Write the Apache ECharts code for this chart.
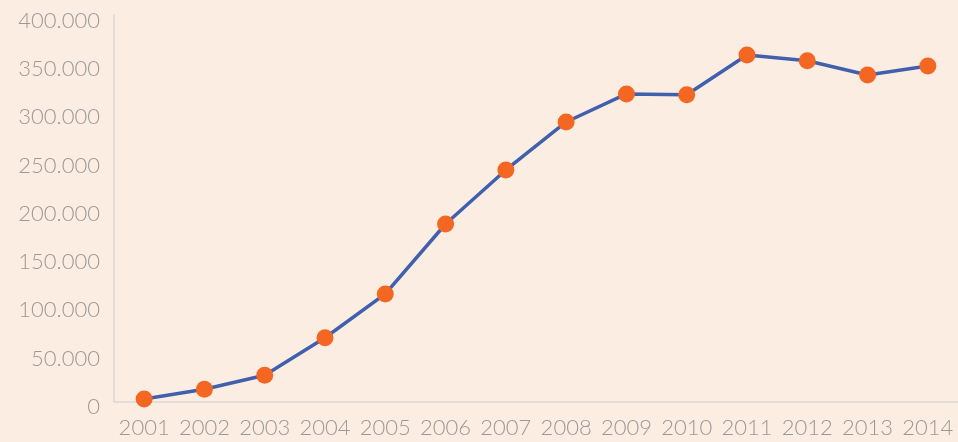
<!DOCTYPE html>
<html>
<head>
<meta charset="utf-8">
<script src="https://cdn.jsdelivr.net/npm/echarts@6/dist/echarts.min.js"></script>
<style>
	html, body { margin: 0; padding: 0; background: #FCEDE2; }
	#main { width: 958px; height: 442px; }
</style>
</head>
<body>
<div id="main"></div>
<script>
// 年份 / 数值
var years = [ '2001', '2002', '2003', '2004', '2005', '2006', '2007',
		'2008', '2009', '2010', '2011', '2012', '2013', '2014' ];
var values = [ 2500, 12600, 27100, 66000, 111300, 183700, 239600,
		289300, 318300, 317500, 358600, 352700, 337900, 347200 ];

function thousands(v) {
	return String(v).replace(/\B(?=(\d{3})+(?!\d))/g, '.');
}

var myChart = echarts.init(document.getElementById('main'));
var labelColor = '#9D9896';
var option = {
	backgroundColor : '#FCEDE2',
	animation : false,
	grid : {
		left : 114,
		right : 0,
		top : 15,
		bottom : 40.5
	},
	xAxis : {
		type : 'category',
		data : years,
		boundaryGap : true,
		axisLine : {
			lineStyle : { color : '#DCD6D2', width : 1.5 }
		},
		axisTick : { show : false },
		axisLabel : {
			color : labelColor,
			fontFamily : 'Lato',
			fontWeight : 300,
			fontSize : 22,
			margin : 15,
			interval : 0
		}
	},
	yAxis : {
		type : 'value',
		min : 0,
		max : 400000,
		interval : 50000,
		axisLine : {
			show : true,
			lineStyle : { color : '#DCD6D2', width : 1.5 }
		},
		axisTick : { show : false },
		splitLine : { show : false },
		axisLabel : {
			color : labelColor,
			margin : 14,
			formatter : function(v) {
				return '{a|' + thousands(v) + '}';
			},
			rich : {
				a : {
					color : labelColor,
					fontFamily : 'Lato',
					fontWeight : 300,
					fontSize : 22,
					padding : [ 11, 0, 0, 0 ]
				}
			}
		}
	},
	series : [ {
		type : 'line',
		data : values,
		symbol : 'circle',
		symbolSize : 17,
		lineStyle : { color : '#4060AE', width : 3.5 },
		itemStyle : { color : '#F46722', borderWidth : 0 }
	} ]
};
myChart.setOption(option);
</script>
</body>
</html>
